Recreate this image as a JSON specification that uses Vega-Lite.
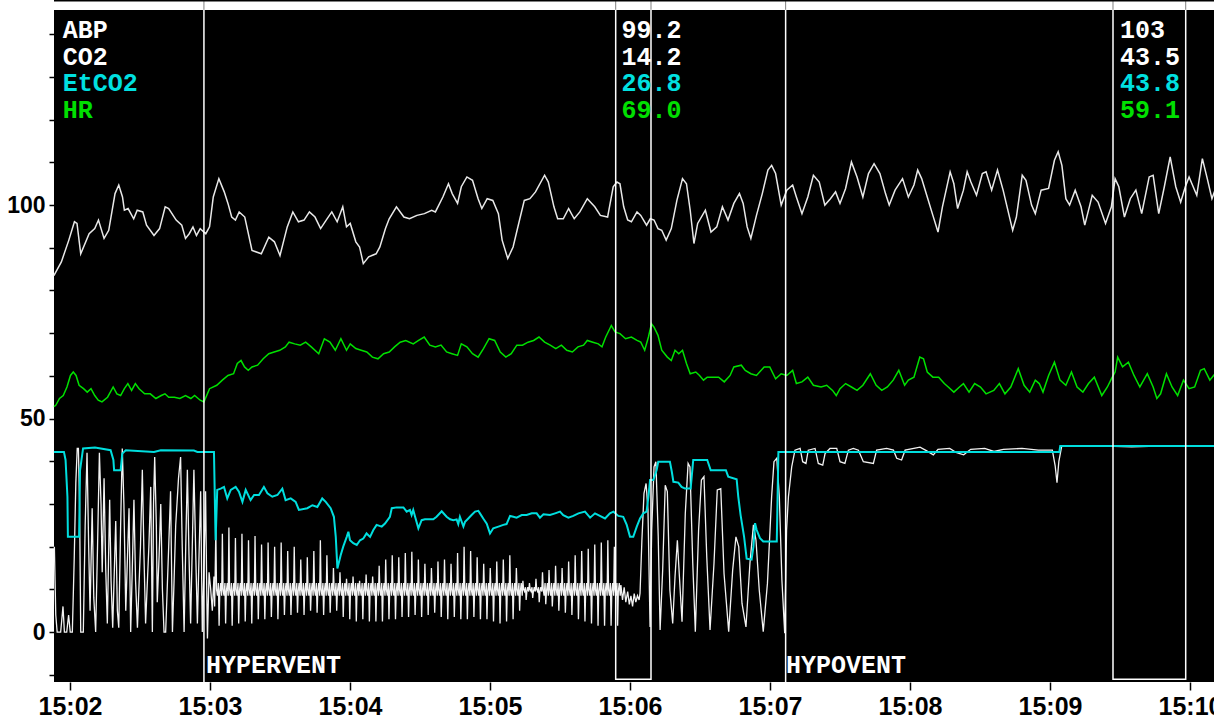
{
"$schema":"https://vega.github.io/schema/vega-lite/v6.json",
"width":1160,"height":672,
"autosize":{"type":"none"},
"padding":{"left":54,"top":10,"right":0,"bottom":39},
"background":"#ffffff",
"config":{"view":{"fill":"#000000","stroke":null}},
"datasets":{
"abp":[{"t":113.1,"v":83.5},{"t":113.9,"v":84.3},{"t":116.3,"v":86.7},{"t":119.5,"v":91.8},{"t":121.9,"v":96.1},{"t":123.0,"v":95.7},{"t":124.6,"v":88.6},{"t":128.2,"v":93.3},{"t":130.6,"v":94.5},{"t":132.2,"v":96.5},{"t":134.6,"v":92.2},{"t":136.6,"v":94.1},{"t":139.3,"v":102.7},{"t":140.9,"v":104.7},{"t":142.5,"v":101.9},{"t":143.3,"v":98.8},{"t":144.9,"v":99.2},{"t":147.3,"v":96.8},{"t":148.8,"v":98.8},{"t":151.2,"v":98.4},{"t":152.8,"v":95.3},{"t":156.0,"v":92.9},{"t":158.4,"v":94.5},{"t":160.8,"v":99.6},{"t":162.3,"v":99.2},{"t":165.5,"v":96.5},{"t":167.9,"v":95.3},{"t":169.5,"v":92.2},{"t":171.1,"v":93.3},{"t":172.7,"v":94.9},{"t":174.2,"v":92.9},{"t":175.8,"v":94.5},{"t":178.2,"v":93.3},{"t":179.8,"v":94.9},{"t":181.4,"v":101.9},{"t":183.8,"v":106.2},{"t":186.1,"v":103.1},{"t":187.7,"v":100.4},{"t":189.3,"v":97.2},{"t":190.9,"v":96.5},{"t":192.5,"v":98.4},{"t":194.9,"v":97.2},{"t":198.0,"v":89.4},{"t":202.0,"v":88.6},{"t":205.2,"v":92.5},{"t":207.6,"v":91.4},{"t":210.0,"v":88.2},{"t":213.1,"v":94.9},{"t":215.5,"v":98.4},{"t":217.9,"v":96.1},{"t":220.3,"v":96.5},{"t":222.6,"v":98.4},{"t":225.0,"v":97.2},{"t":227.4,"v":94.5},{"t":229.8,"v":96.5},{"t":232.2,"v":98.4},{"t":234.5,"v":96.1},{"t":236.9,"v":99.6},{"t":238.5,"v":94.9},{"t":240.1,"v":95.7},{"t":242.5,"v":91.4},{"t":244.1,"v":90.2},{"t":245.7,"v":86.3},{"t":248.0,"v":87.9},{"t":251.2,"v":88.6},{"t":252.8,"v":90.2},{"t":255.2,"v":94.5},{"t":256.8,"v":96.8},{"t":259.9,"v":99.6},{"t":263.1,"v":97.2},{"t":265.5,"v":96.8},{"t":268.7,"v":97.6},{"t":271.9,"v":98.0},{"t":275.0,"v":98.8},{"t":276.6,"v":98.4},{"t":279.8,"v":101.9},{"t":282.2,"v":105.0},{"t":283.8,"v":102.7},{"t":286.1,"v":100.4},{"t":287.7,"v":104.3},{"t":290.1,"v":106.6},{"t":292.5,"v":105.8},{"t":294.9,"v":101.5},{"t":296.5,"v":99.2},{"t":298.8,"v":101.5},{"t":301.2,"v":101.1},{"t":303.6,"v":98.0},{"t":305.2,"v":91.8},{"t":307.6,"v":87.5},{"t":309.9,"v":90.2},{"t":312.3,"v":95.7},{"t":314.7,"v":101.1},{"t":317.1,"v":101.5},{"t":319.5,"v":103.1},{"t":323.4,"v":107.0},{"t":325.0,"v":105.4},{"t":327.4,"v":99.6},{"t":329.0,"v":96.8},{"t":331.4,"v":96.8},{"t":333.7,"v":99.2},{"t":336.1,"v":96.8},{"t":338.5,"v":98.4},{"t":341.7,"v":101.5},{"t":344.9,"v":99.6},{"t":347.3,"v":97.6},{"t":350.4,"v":97.2},{"t":352.8,"v":104.3},{"t":354.4,"v":105.4},{"t":355.7,"v":105.0},{"t":357.3,"v":99.6},{"t":359.0,"v":96.5},{"t":360.6,"v":96.1},{"t":363.0,"v":98.4},{"t":364.6,"v":97.6},{"t":367.1,"v":95.3},{"t":368.7,"v":96.8},{"t":370.3,"v":96.5},{"t":372.0,"v":94.5},{"t":373.6,"v":94.1},{"t":375.5,"v":91.8},{"t":377.7,"v":94.5},{"t":380.1,"v":101.1},{"t":382.5,"v":106.2},{"t":384.2,"v":105.0},{"t":385.8,"v":98.8},{"t":387.4,"v":91.0},{"t":389.0,"v":95.7},{"t":392.3,"v":98.8},{"t":394.7,"v":93.7},{"t":397.2,"v":94.9},{"t":399.6,"v":99.6},{"t":402.0,"v":96.5},{"t":404.5,"v":100.4},{"t":406.9,"v":102.7},{"t":408.5,"v":100.4},{"t":410.2,"v":94.9},{"t":411.8,"v":92.2},{"t":414.2,"v":97.6},{"t":416.7,"v":102.7},{"t":419.1,"v":108.2},{"t":420.7,"v":109.3},{"t":422.4,"v":107.4},{"t":424.8,"v":100.0},{"t":427.2,"v":103.5},{"t":429.7,"v":104.7},{"t":431.3,"v":101.9},{"t":433.7,"v":98.0},{"t":436.2,"v":101.9},{"t":438.6,"v":107.0},{"t":441.1,"v":105.4},{"t":443.5,"v":100.0},{"t":445.9,"v":101.5},{"t":448.1,"v":103.1},{"t":450.0,"v":100.4},{"t":452.4,"v":103.9},{"t":454.9,"v":110.1},{"t":457.3,"v":106.6},{"t":459.8,"v":101.9},{"t":462.2,"v":107.4},{"t":464.6,"v":109.7},{"t":467.1,"v":107.4},{"t":469.5,"v":102.7},{"t":471.1,"v":100.0},{"t":473.6,"v":103.5},{"t":476.8,"v":106.2},{"t":479.3,"v":101.9},{"t":481.7,"v":104.7},{"t":483.3,"v":108.2},{"t":485.0,"v":106.2},{"t":487.4,"v":101.9},{"t":489.8,"v":97.6},{"t":492.0,"v":93.7},{"t":493.9,"v":99.6},{"t":497.2,"v":107.8},{"t":498.8,"v":105.0},{"t":500.4,"v":99.2},{"t":502.9,"v":103.5},{"t":504.5,"v":107.8},{"t":506.1,"v":105.4},{"t":508.5,"v":102.3},{"t":511.0,"v":107.4},{"t":512.6,"v":107.8},{"t":515.0,"v":103.5},{"t":517.5,"v":108.2},{"t":519.9,"v":103.5},{"t":521.6,"v":99.6},{"t":524.0,"v":94.1},{"t":525.6,"v":97.2},{"t":528.1,"v":107.0},{"t":529.7,"v":105.8},{"t":532.1,"v":100.0},{"t":533.7,"v":98.0},{"t":536.2,"v":103.5},{"t":539.4,"v":103.9},{"t":541.9,"v":110.5},{"t":543.5,"v":112.5},{"t":545.1,"v":109.3},{"t":546.8,"v":101.5},{"t":548.4,"v":100.0},{"t":550.8,"v":103.5},{"t":553.3,"v":99.6},{"t":554.9,"v":95.3},{"t":558.1,"v":102.3},{"t":560.6,"v":100.7},{"t":563.8,"v":95.7},{"t":566.3,"v":99.6},{"t":567.9,"v":106.2},{"t":569.5,"v":104.3},{"t":571.9,"v":97.2},{"t":574.4,"v":101.5},{"t":576.8,"v":103.5},{"t":579.3,"v":98.0},{"t":582.5,"v":106.6},{"t":584.2,"v":107.0},{"t":586.6,"v":98.0},{"t":589.0,"v":104.3},{"t":591.5,"v":111.3},{"t":593.9,"v":104.3},{"t":596.0,"v":100.7},{"t":598.0,"v":104.3},{"t":599.6,"v":106.6},{"t":602.9,"v":102.3},{"t":605.3,"v":110.9},{"t":607.4,"v":106.2},{"t":609.4,"v":101.5},{"t":610.7,"v":103.5}],
"hr":[{"t":113.1,"v":52.8},{"t":113.9,"v":53.1},{"t":115.5,"v":54.7},{"t":117.1,"v":55.4},{"t":118.7,"v":57.4},{"t":120.2,"v":60.1},{"t":121.4,"v":60.9},{"t":122.6,"v":60.1},{"t":123.9,"v":57.8},{"t":125.8,"v":57.0},{"t":127.4,"v":56.2},{"t":129.0,"v":57.0},{"t":130.6,"v":55.4},{"t":132.1,"v":54.3},{"t":133.7,"v":53.9},{"t":136.1,"v":55.0},{"t":138.5,"v":57.4},{"t":140.1,"v":55.8},{"t":141.7,"v":55.4},{"t":143.3,"v":57.0},{"t":144.8,"v":58.2},{"t":146.4,"v":56.6},{"t":148.0,"v":58.2},{"t":149.6,"v":57.0},{"t":152.0,"v":55.8},{"t":154.4,"v":55.8},{"t":156.8,"v":54.7},{"t":159.1,"v":55.4},{"t":160.7,"v":55.8},{"t":162.3,"v":55.0},{"t":164.7,"v":55.0},{"t":167.1,"v":54.7},{"t":169.5,"v":55.4},{"t":171.8,"v":54.7},{"t":173.4,"v":55.4},{"t":175.8,"v":54.3},{"t":177.4,"v":53.9},{"t":179.8,"v":57.0},{"t":182.9,"v":57.8},{"t":185.3,"v":59.0},{"t":187.7,"v":60.1},{"t":190.1,"v":60.5},{"t":191.7,"v":62.9},{"t":193.3,"v":63.6},{"t":194.8,"v":62.1},{"t":196.4,"v":61.3},{"t":198.0,"v":62.1},{"t":200.4,"v":62.5},{"t":202.8,"v":64.0},{"t":205.2,"v":65.2},{"t":207.5,"v":65.6},{"t":209.9,"v":66.0},{"t":212.3,"v":66.8},{"t":213.9,"v":67.9},{"t":216.3,"v":67.5},{"t":218.7,"v":67.2},{"t":221.0,"v":67.9},{"t":223.4,"v":66.8},{"t":226.6,"v":65.2},{"t":229.0,"v":68.7},{"t":231.4,"v":67.9},{"t":233.7,"v":66.0},{"t":236.1,"v":68.7},{"t":238.5,"v":66.0},{"t":240.1,"v":67.5},{"t":242.5,"v":66.4},{"t":244.8,"v":66.0},{"t":247.2,"v":65.6},{"t":249.6,"v":64.4},{"t":252.0,"v":64.0},{"t":254.4,"v":65.2},{"t":256.8,"v":65.6},{"t":259.1,"v":66.8},{"t":261.5,"v":67.9},{"t":263.9,"v":68.3},{"t":267.1,"v":67.5},{"t":269.4,"v":68.3},{"t":271.8,"v":69.1},{"t":274.2,"v":67.2},{"t":276.6,"v":66.8},{"t":279.0,"v":67.2},{"t":281.4,"v":65.6},{"t":283.7,"v":65.2},{"t":286.1,"v":64.8},{"t":287.7,"v":67.5},{"t":290.1,"v":66.8},{"t":292.5,"v":65.2},{"t":294.9,"v":64.4},{"t":297.2,"v":66.4},{"t":299.6,"v":68.7},{"t":302.0,"v":68.3},{"t":304.4,"v":65.6},{"t":306.8,"v":64.4},{"t":309.1,"v":65.2},{"t":311.5,"v":67.2},{"t":313.9,"v":67.2},{"t":316.3,"v":67.9},{"t":318.7,"v":68.3},{"t":321.0,"v":69.1},{"t":323.4,"v":67.9},{"t":325.8,"v":67.2},{"t":328.2,"v":66.4},{"t":330.6,"v":67.2},{"t":332.9,"v":66.0},{"t":335.3,"v":65.6},{"t":337.7,"v":66.8},{"t":340.1,"v":67.2},{"t":341.7,"v":68.3},{"t":344.1,"v":67.9},{"t":346.4,"v":67.5},{"t":348.0,"v":66.8},{"t":349.6,"v":69.1},{"t":352.0,"v":71.8},{"t":353.6,"v":70.3},{"t":355.7,"v":69.9},{"t":358.1,"v":68.7},{"t":360.6,"v":69.1},{"t":363.0,"v":68.3},{"t":364.6,"v":67.9},{"t":366.3,"v":66.0},{"t":367.9,"v":69.1},{"t":369.2,"v":72.2},{"t":370.3,"v":71.4},{"t":372.0,"v":69.5},{"t":373.6,"v":66.0},{"t":376.0,"v":64.4},{"t":377.7,"v":63.6},{"t":379.3,"v":66.0},{"t":380.9,"v":65.2},{"t":382.5,"v":66.0},{"t":384.2,"v":62.9},{"t":385.8,"v":60.5},{"t":388.2,"v":60.9},{"t":389.8,"v":60.1},{"t":391.5,"v":59.0},{"t":393.1,"v":59.7},{"t":398.0,"v":59.7},{"t":400.4,"v":58.6},{"t":402.9,"v":60.1},{"t":404.5,"v":62.1},{"t":407.7,"v":62.5},{"t":409.4,"v":61.3},{"t":411.8,"v":60.5},{"t":414.2,"v":60.1},{"t":417.5,"v":62.1},{"t":419.9,"v":62.1},{"t":422.4,"v":59.3},{"t":424.8,"v":60.5},{"t":427.2,"v":60.1},{"t":429.7,"v":61.3},{"t":431.3,"v":58.2},{"t":433.7,"v":58.6},{"t":436.2,"v":59.7},{"t":438.6,"v":57.8},{"t":441.9,"v":57.4},{"t":444.3,"v":57.8},{"t":446.8,"v":56.6},{"t":448.4,"v":55.4},{"t":450.0,"v":57.0},{"t":452.4,"v":58.2},{"t":454.9,"v":57.4},{"t":457.3,"v":56.6},{"t":459.8,"v":57.8},{"t":463.0,"v":60.5},{"t":465.5,"v":57.8},{"t":467.9,"v":56.6},{"t":470.3,"v":57.4},{"t":472.8,"v":59.0},{"t":475.2,"v":61.3},{"t":477.7,"v":57.8},{"t":479.3,"v":59.0},{"t":481.7,"v":59.7},{"t":484.2,"v":64.4},{"t":485.8,"v":64.0},{"t":487.4,"v":60.9},{"t":489.8,"v":59.7},{"t":492.3,"v":59.7},{"t":494.7,"v":58.2},{"t":496.4,"v":57.4},{"t":498.8,"v":56.2},{"t":501.2,"v":57.4},{"t":502.9,"v":58.2},{"t":505.3,"v":56.2},{"t":507.7,"v":58.2},{"t":510.2,"v":57.4},{"t":512.6,"v":55.8},{"t":515.9,"v":56.6},{"t":518.3,"v":58.2},{"t":520.7,"v":55.8},{"t":523.2,"v":57.4},{"t":526.4,"v":61.7},{"t":528.9,"v":57.8},{"t":531.3,"v":56.2},{"t":533.7,"v":59.0},{"t":535.4,"v":58.2},{"t":537.0,"v":56.2},{"t":539.4,"v":60.1},{"t":541.9,"v":63.2},{"t":544.3,"v":59.0},{"t":546.8,"v":57.8},{"t":549.2,"v":60.9},{"t":551.6,"v":57.4},{"t":554.1,"v":56.2},{"t":556.5,"v":58.2},{"t":559.0,"v":59.7},{"t":562.2,"v":55.4},{"t":564.6,"v":57.4},{"t":566.3,"v":59.3},{"t":567.9,"v":60.9},{"t":569.0,"v":64.4},{"t":571.1,"v":62.1},{"t":573.6,"v":63.2},{"t":576.0,"v":60.1},{"t":578.5,"v":57.4},{"t":581.7,"v":60.5},{"t":584.2,"v":57.4},{"t":585.8,"v":54.7},{"t":587.4,"v":55.8},{"t":589.9,"v":60.5},{"t":592.3,"v":57.4},{"t":594.7,"v":55.4},{"t":597.2,"v":59.0},{"t":599.6,"v":57.0},{"t":602.0,"v":57.4},{"t":604.5,"v":61.3},{"t":606.1,"v":61.7},{"t":608.5,"v":59.0},{"t":610.7,"v":60.5}],
"co2":[{"t":113.3,"v":20},{"t":113.9,"v":4},{"t":114.5,"v":0},{"t":116.0,"v":0},{"t":117.0,"v":6},{"t":117.6,"v":0},{"t":118.6,"v":0},{"t":119.4,"v":4},{"t":120.1,"v":0},{"t":121.0,"v":0},{"t":121.8,"v":17},{"t":122.5,"v":35},{"t":123.1,"v":43},{"t":123.6,"v":43},{"t":124.1,"v":30},{"t":124.6,"v":0},{"t":125.7,"v":0},{"t":126.5,"v":25},{"t":127.3,"v":42},{"t":128.0,"v":20},{"t":128.6,"v":5},{"t":129.5,"v":29},{"t":130.2,"v":8},{"t":131.0,"v":0},{"t":131.8,"v":20},{"t":132.6,"v":42},{"t":133.3,"v":30},{"t":133.8,"v":14},{"t":134.6,"v":36},{"t":135.3,"v":15},{"t":136.0,"v":2},{"t":137.0,"v":31},{"t":137.6,"v":12},{"t":138.3,"v":1},{"t":139.6,"v":26},{"t":140.3,"v":5},{"t":140.9,"v":1},{"t":141.7,"v":25},{"t":142.4,"v":43},{"t":143.1,"v":30},{"t":143.9,"v":5},{"t":145.3,"v":29},{"t":146.0,"v":0},{"t":146.7,"v":15},{"t":147.4,"v":31},{"t":148.1,"v":12},{"t":148.9,"v":1},{"t":150.2,"v":20},{"t":151.0,"v":38},{"t":151.7,"v":18},{"t":152.4,"v":2},{"t":153.8,"v":20},{"t":154.6,"v":34},{"t":155.3,"v":0},{"t":155.8,"v":30},{"t":156.3,"v":41},{"t":157.0,"v":25},{"t":157.4,"v":7},{"t":158.2,"v":18},{"t":158.9,"v":30},{"t":159.6,"v":10},{"t":160.3,"v":0},{"t":161.0,"v":0},{"t":162.3,"v":20},{"t":163.1,"v":33},{"t":163.9,"v":0},{"t":164.6,"v":12},{"t":165.3,"v":25},{"t":166.5,"v":36},{"t":167.4,"v":41},{"t":168.1,"v":20},{"t":168.9,"v":0},{"t":169.6,"v":20},{"t":170.3,"v":38},{"t":171.0,"v":18},{"t":171.7,"v":2},{"t":172.4,"v":20},{"t":173.1,"v":38},{"t":173.9,"v":18},{"t":174.6,"v":2},{"t":175.3,"v":18},{"t":176.0,"v":33},{"t":176.7,"v":0},{"t":177.4,"v":15},{"t":178.1,"v":33},{"t":178.6,"v":10},{"t":178.9,"v":-1.5},{"t":179.6,"v":14},{"t":180.3,"v":10},{"t":181.0,"v":5},{"t":181.7,"v":13},{"t":182.0,"v":6},
{"t":182.5,"v":24},{"t":182.8,"v":10},{"t":183.2,"v":8.5},{"t":183.6,"v":11.5},{"t":183.9,"v":1.5},{"t":184.2,"v":9.5},{"t":184.6,"v":11.5},{"t":185.0,"v":8.5},
{"t":185.3,"v":23},{"t":185.6,"v":10},{"t":186.0,"v":8.5},{"t":186.4,"v":11.5},{"t":186.7,"v":2},{"t":187.0,"v":9.5},{"t":187.4,"v":11.5},{"t":187.8,"v":8.5},
{"t":188.1,"v":24.5},{"t":188.4,"v":10},{"t":188.8,"v":8.5},{"t":189.2,"v":11.5},{"t":189.5,"v":1.5},{"t":189.8,"v":9.5},{"t":190.2,"v":11.5},{"t":190.6,"v":8.5},
{"t":190.9,"v":22},{"t":191.2,"v":10},{"t":191.6,"v":8.5},{"t":192.0,"v":11.5},{"t":192.3,"v":2},{"t":192.6,"v":9.5},{"t":193.0,"v":11.5},{"t":193.4,"v":8.5},
{"t":193.7,"v":23},{"t":194.0,"v":10},{"t":194.4,"v":8.5},{"t":194.8,"v":11.5},{"t":195.1,"v":2.5},{"t":195.4,"v":9.5},{"t":195.8,"v":11.5},{"t":196.2,"v":8.5},
{"t":196.5,"v":21.5},{"t":196.8,"v":10},{"t":197.2,"v":8.5},{"t":197.6,"v":11.5},{"t":197.9,"v":2},{"t":198.2,"v":9.5},{"t":198.6,"v":11.5},{"t":199.0,"v":8.5},
{"t":199.3,"v":22.5},{"t":199.6,"v":10},{"t":200.0,"v":8.5},{"t":200.4,"v":11.5},{"t":200.7,"v":3},{"t":201.0,"v":9.5},{"t":201.4,"v":11.5},{"t":201.8,"v":8.5},
{"t":202.1,"v":20.5},{"t":202.4,"v":10},{"t":202.8,"v":8.5},{"t":203.2,"v":11.5},{"t":203.5,"v":3},{"t":203.8,"v":9.5},{"t":204.2,"v":11.5},{"t":204.6,"v":8.5},
{"t":204.9,"v":21},{"t":205.2,"v":10},{"t":205.6,"v":8.5},{"t":206.0,"v":11.5},{"t":206.3,"v":3.5},{"t":206.6,"v":9.5},{"t":207.0,"v":11.5},{"t":207.4,"v":8.5},
{"t":207.7,"v":20},{"t":208.0,"v":10},{"t":208.4,"v":8.5},{"t":208.8,"v":11.5},{"t":209.1,"v":3},{"t":209.4,"v":9.5},{"t":209.8,"v":11.5},{"t":210.2,"v":8.5},
{"t":210.5,"v":21},{"t":210.8,"v":10},{"t":211.2,"v":8.5},{"t":211.6,"v":11.5},{"t":211.9,"v":4},{"t":212.2,"v":9.5},{"t":212.6,"v":11.5},{"t":213.0,"v":8.5},
{"t":213.3,"v":19},{"t":213.6,"v":10},{"t":214.0,"v":8.5},{"t":214.4,"v":11.5},{"t":214.7,"v":4},{"t":215.0,"v":9.5},{"t":215.4,"v":11.5},{"t":215.8,"v":8.5},
{"t":216.1,"v":20},{"t":216.4,"v":10},{"t":216.8,"v":8.5},{"t":217.2,"v":11.5},{"t":217.5,"v":4.5},{"t":217.8,"v":9.5},{"t":218.2,"v":11.5},{"t":218.6,"v":8.5},
{"t":218.9,"v":17},{"t":219.2,"v":10},{"t":219.6,"v":8.5},{"t":220.0,"v":11.5},{"t":220.3,"v":4},{"t":220.6,"v":9.5},{"t":221.0,"v":11.5},{"t":221.4,"v":8.5},
{"t":221.7,"v":17.5},{"t":222.0,"v":10},{"t":222.4,"v":8.5},{"t":222.8,"v":11.5},{"t":223.1,"v":5},{"t":223.4,"v":9.5},{"t":223.8,"v":11.5},{"t":224.2,"v":8.5},
{"t":224.5,"v":19},{"t":224.8,"v":10},{"t":225.2,"v":8.5},{"t":225.6,"v":11.5},{"t":225.9,"v":4.5},{"t":226.2,"v":9.5},{"t":226.6,"v":11.5},{"t":227.0,"v":8.5},
{"t":227.3,"v":21.5},{"t":227.6,"v":10},{"t":228.0,"v":8.5},{"t":228.4,"v":11.5},{"t":228.7,"v":4},{"t":229.0,"v":9.5},{"t":229.4,"v":11.5},{"t":229.8,"v":8.5},
{"t":230.1,"v":18},{"t":230.4,"v":10},{"t":230.8,"v":8.5},{"t":231.2,"v":11.5},{"t":231.5,"v":4.5},{"t":231.8,"v":9.5},{"t":232.2,"v":11.5},{"t":232.6,"v":8.5},
{"t":232.9,"v":15},{"t":233.2,"v":10},{"t":233.6,"v":8.5},{"t":234.0,"v":11.5},{"t":234.3,"v":5},{"t":234.6,"v":9.5},{"t":235.0,"v":11.5},{"t":235.4,"v":8.5},
{"t":235.7,"v":14},{"t":236.0,"v":10},{"t":236.4,"v":8.5},{"t":236.8,"v":11.5},{"t":237.1,"v":3.5},{"t":237.4,"v":9.5},{"t":237.8,"v":11.5},{"t":238.2,"v":8.5},
{"t":238.5,"v":12.5},{"t":238.8,"v":10},{"t":239.2,"v":8.5},{"t":239.6,"v":11.5},{"t":239.9,"v":3},{"t":240.2,"v":9.5},{"t":240.6,"v":11.5},{"t":241.0,"v":8.5},
{"t":241.3,"v":13},{"t":241.6,"v":10},{"t":242.0,"v":8.5},{"t":242.4,"v":11.5},{"t":242.7,"v":2.5},{"t":243.0,"v":9.5},{"t":243.4,"v":11.5},{"t":243.8,"v":8.5},
{"t":244.1,"v":12},{"t":244.4,"v":10},{"t":244.8,"v":8.5},{"t":245.2,"v":11.5},{"t":245.5,"v":3},{"t":245.8,"v":9.5},{"t":246.2,"v":11.5},{"t":246.6,"v":8.5},
{"t":246.9,"v":13.5},{"t":247.2,"v":10},{"t":247.6,"v":8.5},{"t":248.0,"v":11.5},{"t":248.3,"v":2.5},{"t":248.6,"v":9.5},{"t":249.0,"v":11.5},{"t":249.4,"v":8.5},
{"t":249.7,"v":13},{"t":250.0,"v":10},{"t":250.4,"v":8.5},{"t":250.8,"v":11.5},{"t":251.1,"v":2.5},{"t":251.4,"v":9.5},{"t":251.8,"v":11.5},{"t":252.2,"v":8.5},
{"t":252.5,"v":15.5},{"t":252.8,"v":10},{"t":253.2,"v":8.5},{"t":253.6,"v":11.5},{"t":253.9,"v":2.5},{"t":254.2,"v":9.5},{"t":254.6,"v":11.5},{"t":255.0,"v":8.5},
{"t":255.3,"v":17},{"t":255.6,"v":10},{"t":256.0,"v":8.5},{"t":256.4,"v":11.5},{"t":256.7,"v":3},{"t":257.0,"v":9.5},{"t":257.4,"v":11.5},{"t":257.8,"v":8.5},
{"t":258.1,"v":18},{"t":258.4,"v":10},{"t":258.8,"v":8.5},{"t":259.2,"v":11.5},{"t":259.5,"v":3},{"t":259.8,"v":9.5},{"t":260.2,"v":11.5},{"t":260.6,"v":8.5},
{"t":260.9,"v":17.5},{"t":261.2,"v":10},{"t":261.6,"v":8.5},{"t":262.0,"v":11.5},{"t":262.3,"v":3.5},{"t":262.6,"v":9.5},{"t":263.0,"v":11.5},{"t":263.4,"v":8.5},
{"t":263.7,"v":18.5},{"t":264.0,"v":10},{"t":264.4,"v":8.5},{"t":264.8,"v":11.5},{"t":265.1,"v":3.5},{"t":265.4,"v":9.5},{"t":265.8,"v":11.5},{"t":266.2,"v":8.5},
{"t":266.5,"v":18.8},{"t":266.8,"v":10},{"t":267.2,"v":8.5},{"t":267.6,"v":11.5},{"t":267.9,"v":4},{"t":268.2,"v":9.5},{"t":268.6,"v":11.5},{"t":269.0,"v":8.5},
{"t":269.3,"v":17},{"t":269.6,"v":10},{"t":270.0,"v":8.5},{"t":270.4,"v":11.5},{"t":270.7,"v":3.5},{"t":271.0,"v":9.5},{"t":271.4,"v":11.5},{"t":271.8,"v":8.5},
{"t":272.1,"v":16},{"t":272.4,"v":10},{"t":272.8,"v":8.5},{"t":273.2,"v":11.5},{"t":273.5,"v":4},{"t":273.8,"v":9.5},{"t":274.2,"v":11.5},{"t":274.6,"v":8.5},
{"t":274.9,"v":15},{"t":275.2,"v":10},{"t":275.6,"v":8.5},{"t":276.0,"v":11.5},{"t":276.3,"v":4.5},{"t":276.6,"v":9.5},{"t":277.0,"v":11.5},{"t":277.4,"v":8.5},
{"t":277.7,"v":16.5},{"t":278.0,"v":10},{"t":278.4,"v":8.5},{"t":278.8,"v":11.5},{"t":279.1,"v":3.5},{"t":279.4,"v":9.5},{"t":279.8,"v":11.5},{"t":280.2,"v":8.5},
{"t":280.5,"v":17},{"t":280.8,"v":10},{"t":281.2,"v":8.5},{"t":281.6,"v":11.5},{"t":281.9,"v":3},{"t":282.2,"v":9.5},{"t":282.6,"v":11.5},{"t":283.0,"v":8.5},
{"t":283.3,"v":16},{"t":283.6,"v":10},{"t":284.0,"v":8.5},{"t":284.4,"v":11.5},{"t":284.7,"v":3.5},{"t":285.0,"v":9.5},{"t":285.4,"v":11.5},{"t":285.8,"v":8.5},
{"t":286.1,"v":18.5},{"t":286.4,"v":10},{"t":286.8,"v":8.5},{"t":287.2,"v":11.5},{"t":287.5,"v":3},{"t":287.8,"v":9.5},{"t":288.2,"v":11.5},{"t":288.6,"v":8.5},
{"t":288.9,"v":20},{"t":289.2,"v":10},{"t":289.6,"v":8.5},{"t":290.0,"v":11.5},{"t":290.3,"v":3},{"t":290.6,"v":9.5},{"t":291.0,"v":11.5},{"t":291.4,"v":8.5},
{"t":291.7,"v":19},{"t":292.0,"v":10},{"t":292.4,"v":8.5},{"t":292.8,"v":11.5},{"t":293.1,"v":3.5},{"t":293.4,"v":9.5},{"t":293.8,"v":11.5},{"t":294.2,"v":8.5},
{"t":294.5,"v":17.5},{"t":294.8,"v":10},{"t":295.2,"v":8.5},{"t":295.6,"v":11.5},{"t":295.9,"v":3},{"t":296.2,"v":9.5},{"t":296.6,"v":11.5},{"t":297.0,"v":8.5},
{"t":297.3,"v":16},{"t":297.6,"v":10},{"t":298.0,"v":8.5},{"t":298.4,"v":11.5},{"t":298.7,"v":3},{"t":299.0,"v":9.5},{"t":299.4,"v":11.5},{"t":299.8,"v":8.5},
{"t":300.1,"v":15},{"t":300.4,"v":10},{"t":300.8,"v":8.5},{"t":301.2,"v":11.5},{"t":301.5,"v":2.5},{"t":301.8,"v":9.5},{"t":302.2,"v":11.5},{"t":302.6,"v":8.5},
{"t":302.9,"v":16.5},{"t":303.2,"v":10},{"t":303.6,"v":8.5},{"t":304.0,"v":11.5},{"t":304.3,"v":2},{"t":304.6,"v":9.5},{"t":305.0,"v":11.5},{"t":305.4,"v":8.5},
{"t":305.7,"v":17},{"t":306.0,"v":10},{"t":306.4,"v":8.5},{"t":306.8,"v":11.5},{"t":307.1,"v":2.5},{"t":307.4,"v":9.5},{"t":307.8,"v":11.5},{"t":308.2,"v":8.5},
{"t":308.5,"v":18},{"t":308.8,"v":10},{"t":309.2,"v":8.5},{"t":309.6,"v":11.5},{"t":309.9,"v":3},{"t":310.2,"v":9.5},{"t":310.6,"v":11.5},{"t":311.0,"v":8.5},
{"t":311.3,"v":15},{"t":311.6,"v":10},{"t":312.0,"v":8.5},{"t":312.4,"v":11.5},{"t":312.7,"v":5},{"t":313.0,"v":9.5},{"t":313.4,"v":11.5},{"t":313.8,"v":8.5},
{"t":314.1,"v":12},{"t":314.4,"v":10},{"t":314.8,"v":9.5},{"t":315.2,"v":10.5},{"t":315.5,"v":7.5},{"t":315.8,"v":9.5},{"t":316.2,"v":10.5},{"t":316.6,"v":9.5},
{"t":316.9,"v":11.5},{"t":317.2,"v":10},{"t":317.6,"v":9.5},{"t":318.0,"v":10.5},{"t":318.3,"v":8},{"t":318.6,"v":9.5},{"t":319.0,"v":10.5},{"t":319.4,"v":9.5},
{"t":319.7,"v":12.5},{"t":320.0,"v":10},{"t":320.4,"v":9.5},{"t":320.8,"v":10.5},{"t":321.1,"v":7},{"t":321.4,"v":9.5},{"t":321.8,"v":10.5},{"t":322.2,"v":9.5},
{"t":322.5,"v":14},{"t":322.8,"v":10},{"t":323.2,"v":8.5},{"t":323.6,"v":11.5},{"t":323.9,"v":6.5},{"t":324.2,"v":9.5},{"t":324.6,"v":11.5},{"t":325.0,"v":8.5},
{"t":325.3,"v":14.5},{"t":325.6,"v":10},{"t":326.0,"v":8.5},{"t":326.4,"v":11.5},{"t":326.7,"v":6},{"t":327.0,"v":9.5},{"t":327.4,"v":11.5},{"t":327.8,"v":8.5},
{"t":328.1,"v":15.5},{"t":328.4,"v":10},{"t":328.8,"v":8.5},{"t":329.2,"v":11.5},{"t":329.5,"v":5},{"t":329.8,"v":9.5},{"t":330.2,"v":11.5},{"t":330.6,"v":8.5},
{"t":330.9,"v":15},{"t":331.2,"v":10},{"t":331.6,"v":8.5},{"t":332.0,"v":11.5},{"t":332.3,"v":4.5},{"t":332.6,"v":9.5},{"t":333.0,"v":11.5},{"t":333.4,"v":8.5},
{"t":333.7,"v":16.5},{"t":334.0,"v":10},{"t":334.4,"v":8.5},{"t":334.8,"v":11.5},{"t":335.1,"v":4},{"t":335.4,"v":9.5},{"t":335.8,"v":11.5},{"t":336.2,"v":8.5},
{"t":336.5,"v":18},{"t":336.8,"v":10},{"t":337.2,"v":8.5},{"t":337.6,"v":11.5},{"t":337.9,"v":3},{"t":338.2,"v":9.5},{"t":338.6,"v":11.5},{"t":339.0,"v":8.5},
{"t":339.3,"v":19},{"t":339.6,"v":10},{"t":340.0,"v":8.5},{"t":340.4,"v":11.5},{"t":340.7,"v":2.5},{"t":341.0,"v":9.5},{"t":341.4,"v":11.5},{"t":341.8,"v":8.5},
{"t":342.1,"v":19.5},{"t":342.4,"v":10},{"t":342.8,"v":8.5},{"t":343.2,"v":11.5},{"t":343.5,"v":2},{"t":343.8,"v":9.5},{"t":344.2,"v":11.5},{"t":344.6,"v":8.5},
{"t":344.9,"v":20.5},{"t":345.2,"v":10},{"t":345.6,"v":8.5},{"t":346.0,"v":11.5},{"t":346.3,"v":1.5},{"t":346.6,"v":9.5},{"t":347.0,"v":11.5},{"t":347.4,"v":8.5},
{"t":347.7,"v":21},{"t":348.0,"v":10},{"t":348.4,"v":8.5},{"t":348.8,"v":11.5},{"t":349.1,"v":1.5},{"t":349.4,"v":9.5},{"t":349.8,"v":11.5},{"t":350.2,"v":8.5},
{"t":350.5,"v":21.5},{"t":350.8,"v":10},{"t":351.2,"v":8.5},{"t":351.6,"v":11.5},{"t":351.9,"v":1.5},{"t":352.2,"v":9.5},{"t":352.6,"v":11.5},{"t":353.0,"v":8.5},
{"t":353.3,"v":20},{"t":353.6,"v":10},{"t":354.0,"v":8.5},{"t":354.4,"v":11.5},{"t":354.7,"v":1.5},{"t":355.0,"v":9.5},{"t":355.4,"v":11.5},{"t":355.8,"v":8.5},
{"t":356.1,"v":11},{"t":356.8,"v":7.5},{"t":357.5,"v":10.5},{"t":358.2,"v":7},{"t":359.0,"v":9.5},{"t":359.7,"v":6.5},{"t":360.4,"v":8.5},{"t":361.1,"v":6},{"t":361.8,"v":9},{"t":362.5,"v":7},{"t":363.2,"v":8.5},{"t":363.9,"v":7.5},
{"t":364.3,"v":9.1},{"t":365.1,"v":21.5},{"t":366.0,"v":32.5},{"t":366.9,"v":34.8},{"t":367.7,"v":28.6},{"t":368.6,"v":1.2},{"t":369.3,"v":23.9},{"t":370.3,"v":38.7},{"t":371.1,"v":39.9},{"t":372.1,"v":22.3},{"t":372.9,"v":0.5},{"t":374.0,"v":14.5},{"t":375.1,"v":34.4},{"t":376.0,"v":32.9},{"t":377.1,"v":9.8},{"t":378.3,"v":2.0},{"t":379.3,"v":13.0},{"t":380.3,"v":21.5},{"t":381.1,"v":13.7},{"t":382.3,"v":2.4},{"t":383.7,"v":27.8},{"t":384.9,"v":39.5},{"t":385.7,"v":38.7},{"t":386.9,"v":16.1},{"t":388.0,"v":0.1},{"t":389.4,"v":23.9},{"t":390.6,"v":35.6},{"t":391.7,"v":36.4},{"t":392.9,"v":17.6},{"t":394.3,"v":0.5},{"t":396.0,"v":16.1},{"t":397.4,"v":33.3},{"t":398.9,"v":33.6},{"t":400.3,"v":13.7},{"t":402.3,"v":0.1},{"t":404.0,"v":14.5},{"t":405.4,"v":22.3},{"t":406.6,"v":20.0},{"t":408.0,"v":6.7},{"t":409.7,"v":1.2},{"t":411.4,"v":16.1},{"t":412.9,"v":25.1},{"t":414.0,"v":21.5},{"t":415.4,"v":9.8},{"t":417.1,"v":0.1},{"t":418.9,"v":11.4},{"t":420.7,"v":31.7},{"t":421.7,"v":39.9},{"t":422.9,"v":40.7},{"t":424.0,"v":31.7},{"t":425.1,"v":12.2},{"t":426.3,"v":-0.3},{"t":427.1,"v":23.9},
{"t":427.9,"v":31.7},{"t":429.3,"v":38.7},{"t":430.7,"v":42.6},{"t":432.9,"v":43.0},{"t":434.0,"v":39.9},{"t":435.4,"v":39.5},{"t":436.4,"v":42.6},{"t":439.3,"v":43.0},{"t":440.7,"v":39.5},{"t":442.6,"v":39.1},{"t":443.6,"v":41.8},{"t":445.7,"v":43.0},{"t":448.6,"v":43.0},{"t":450.0,"v":39.9},{"t":452.1,"v":39.5},{"t":453.6,"v":42.6},{"t":455.7,"v":43.0},{"t":457.9,"v":42.6},{"t":460.0,"v":39.9},{"t":464.3,"v":39.5},{"t":465.7,"v":42.6},{"t":470.0,"v":43.0},{"t":472.9,"v":42.6},{"t":474.3,"v":40.7},{"t":476.4,"v":40.3},{"t":477.9,"v":42.6},{"t":484.3,"v":43.3},{"t":487.0,"v":42.5},{"t":490.0,"v":41.5},{"t":492.0,"v":42.8},{"t":497.0,"v":43.0},{"t":500.0,"v":42.0},{"t":503.0,"v":41.5},{"t":506.0,"v":42.8},{"t":512.0,"v":43.0},{"t":516.0,"v":42.3},{"t":520.0,"v":42.8},{"t":528.0,"v":43.0},{"t":535.0,"v":42.6},{"t":541.0,"v":42.6},{"t":542.2,"v":39},{"t":543.0,"v":35},{"t":543.8,"v":40},{"t":545.0,"v":43.5},{"t":560.0,"v":43.6},{"t":575.0,"v":43.4},{"t":590.0,"v":43.6},{"t":610.3,"v":43.5}],
"et":[{"t":113.1,"v":42.2},{"t":117.4,"v":42.2},{"t":118.1,"v":40.3},{"t":118.9,"v":31.7},{"t":119.1,"v":22.3},{"t":123.9,"v":22.3},{"t":124.3,"v":37.9},{"t":125.6,"v":43.0},{"t":130.7,"v":43.2},{"t":137.4,"v":42.6},{"t":138.6,"v":40.3},{"t":138.9,"v":37.9},{"t":141.7,"v":37.9},{"t":142.4,"v":41.8},{"t":143.9,"v":42.6},{"t":156.0,"v":42.2},{"t":158.9,"v":42.6},{"t":173.1,"v":42.5},{"t":174.6,"v":42.2},{"t":181.7,"v":42.2},{"t":182.4,"v":21.5},{"t":183.1,"v":33.3},{"t":184.6,"v":33.6},{"t":186.0,"v":34.0},{"t":187.4,"v":31.3},{"t":188.9,"v":33.3},{"t":191.0,"v":34.0},{"t":192.4,"v":32.9},{"t":193.9,"v":30.5},{"t":195.3,"v":33.3},{"t":197.4,"v":30.9},{"t":198.9,"v":32.1},{"t":201.0,"v":32.1},{"t":203.1,"v":34.0},{"t":204.6,"v":32.5},{"t":206.7,"v":31.7},{"t":208.9,"v":32.1},{"t":211.0,"v":33.6},{"t":212.4,"v":30.9},{"t":214.6,"v":31.3},{"t":216.7,"v":30.5},{"t":218.1,"v":28.6},{"t":221.7,"v":29.0},{"t":223.9,"v":29.7},{"t":226.0,"v":29.3},{"t":228.1,"v":31.3},{"t":229.6,"v":30.5},{"t":231.7,"v":29.0},{"t":233.1,"v":27.0},{"t":233.9,"v":22.3},{"t":234.6,"v":14.9},{"t":236.0,"v":18.0},{"t":237.1,"v":20.0},{"t":238.6,"v":22.3},{"t":239.3,"v":23.5},{"t":240.0,"v":21.5},{"t":241.4,"v":20.8},{"t":242.9,"v":20.4},{"t":244.3,"v":21.5},{"t":245.7,"v":21.9},{"t":247.1,"v":23.1},{"t":248.6,"v":22.3},{"t":250.0,"v":23.9},{"t":251.4,"v":25.1},{"t":253.6,"v":24.7},{"t":255.0,"v":25.4},{"t":257.1,"v":27.0},{"t":257.9,"v":29.0},{"t":260.0,"v":29.2},{"t":262.9,"v":29.2},{"t":264.3,"v":28.2},{"t":265.7,"v":28.6},{"t":266.4,"v":27.4},{"t":267.1,"v":28.6},{"t":267.9,"v":27.0},{"t":269.3,"v":24.3},{"t":270.7,"v":26.2},{"t":272.1,"v":26.4},{"t":275.7,"v":26.4},{"t":277.1,"v":27.0},{"t":279.3,"v":28.3},{"t":281.4,"v":27.0},{"t":282.9,"v":26.4},{"t":284.3,"v":26.2},{"t":285.7,"v":26.4},{"t":286.4,"v":25.3},{"t":287.1,"v":27.0},{"t":288.6,"v":24.7},{"t":289.3,"v":25.8},{"t":290.7,"v":26.6},{"t":292.1,"v":27.4},{"t":293.6,"v":28.2},{"t":295.0,"v":28.4},{"t":295.7,"v":27.8},{"t":297.1,"v":26.6},{"t":298.6,"v":25.4},{"t":300.0,"v":23.1},{"t":301.4,"v":24.3},{"t":303.6,"v":24.7},{"t":305.7,"v":25.1},{"t":307.1,"v":25.3},{"t":308.6,"v":27.2},{"t":310.0,"v":27.0},{"t":311.4,"v":26.8},{"t":313.6,"v":27.4},{"t":315.7,"v":27.4},{"t":317.9,"v":27.8},{"t":320.0,"v":27.8},{"t":321.4,"v":26.8},{"t":322.9,"v":27.6},{"t":325.7,"v":27.4},{"t":327.9,"v":27.8},{"t":330.0,"v":28.2},{"t":331.4,"v":27.4},{"t":333.6,"v":26.8},{"t":335.7,"v":27.2},{"t":337.9,"v":27.8},{"t":340.7,"v":28.2},{"t":342.9,"v":26.8},{"t":345.0,"v":27.8},{"t":347.1,"v":27.2},{"t":349.3,"v":26.6},{"t":351.4,"v":27.8},{"t":352.9,"v":28.2},{"t":355.0,"v":27.2},{"t":357.1,"v":27.0},{"t":358.6,"v":25.1},{"t":360.0,"v":22.3},{"t":361.4,"v":22.3},{"t":362.9,"v":24.7},{"t":364.3,"v":26.6},{"t":365.7,"v":27.8},{"t":367.1,"v":28.2},{"t":367.9,"v":31.7},{"t":368.6,"v":35.6},{"t":370.0,"v":35.6},{"t":371.4,"v":37.9},{"t":372.1,"v":39.9},{"t":377.1,"v":39.9},{"t":377.9,"v":37.6},{"t":378.6,"v":35.2},{"t":380.7,"v":35.0},{"t":382.1,"v":34.0},{"t":383.6,"v":33.6},{"t":386.0,"v":33.6},{"t":387.1,"v":40.3},{"t":393.1,"v":40.3},{"t":394.6,"v":37.9},{"t":401.1,"v":37.9},{"t":402.1,"v":36.4},{"t":405.7,"v":35.8},{"t":406.4,"v":31.7},{"t":407.4,"v":27.4},{"t":408.9,"v":22.3},{"t":410.0,"v":17.2},{"t":412.1,"v":17.0},{"t":412.9,"v":20.0},{"t":413.6,"v":25.5},{"t":414.3,"v":23.9},{"t":415.7,"v":22.0},{"t":417.1,"v":21.2},{"t":422.9,"v":21.2},{"t":423.6,"v":42.2},{"t":544.0,"v":42.2},{"t":544.4,"v":43.6},{"t":610.3,"v":43.6}],
"vl":[{"t":177.4},{"t":426.7}],
"box":[{"t":353.87,"t2":369.0},{"t":567.0,"t2":598.16}],
"band":[{"t":177.4},{"t":353.87},{"t":369.0},{"t":426.7},{"t":567.0},{"t":598.16}],
"labels":[{"t":116.9,"v":141.0,"txt":"ABP","s":"w"},{"t":116.9,"v":134.8,"txt":"CO2","s":"w"},{"t":116.9,"v":128.6,"txt":"EtCO2","s":"c"},{"t":116.9,"v":122.3,"txt":"HR","s":"g"},{"t":356.4,"v":141.0,"txt":"99.2","s":"w"},{"t":356.4,"v":134.8,"txt":"14.2","s":"w"},{"t":356.4,"v":128.6,"txt":"26.8","s":"c"},{"t":356.4,"v":122.3,"txt":"69.0","s":"g"},{"t":570.0,"v":141.0,"txt":"103","s":"w"},{"t":570.0,"v":134.8,"txt":"43.5","s":"w"},{"t":570.0,"v":128.6,"txt":"43.8","s":"c"},{"t":570.0,"v":122.3,"txt":"59.1","s":"g"},{"t":178.3,"v":-7.7,"txt":"HYPERVENT","s":"w"},{"t":426.9,"v":-7.7,"txt":"HYPOVENT","s":"w"}]
},
"layer":[
{"data":{"name":"abp"},"mark":{"type":"line","color":"#e8e8e8","strokeWidth":1.5},
 "encoding":{
  "x":{"field":"t","type":"quantitative","scale":{"domain":[113.143,610.286],"nice":false,"zero":false},
   "axis":{"values":[120,180,240,300,360,420,480,540,600],"labelExpr":"'15:' + (datum.value < 600 ? '0' : '') + (datum.value / 60)","title":null,"domain":false,"grid":false,"tickColor":"#000000","tickSize":8,"tickWidth":1.5,"labelFont":"Liberation Sans","labelFontWeight":"bold","labelFontSize":25,"labelColor":"#000000","labelPadding":4,"labelFlush":false,"labelOverlap":false}},
  "y":{"field":"v","type":"quantitative","scale":{"domain":[-11.7,145.7],"nice":false,"zero":false},
   "axis":{"values":[-10,0,10,20,30,40,50,60,70,80,90,100,110,120,130,140],"labelExpr":"datum.value % 50 === 0 ? datum.label : ''","title":null,"domain":false,"grid":false,"tickColor":"#000000","tickSize":5,"tickWidth":1.5,"labelFont":"Liberation Sans","labelFontWeight":"bold","labelFontSize":23,"labelColor":"#000000","labelPadding":4,"labelOverlap":false}}}},
{"data":{"name":"hr"},"mark":{"type":"line","color":"#00e000","strokeWidth":1.5},
 "encoding":{"x":{"field":"t","type":"quantitative"},"y":{"field":"v","type":"quantitative"}}},
{"data":{"name":"co2"},"mark":{"type":"line","color":"#f2f2f2","strokeWidth":1.3},
 "encoding":{"x":{"field":"t","type":"quantitative"},"y":{"field":"v","type":"quantitative"}}},
{"data":{"name":"et"},"mark":{"type":"line","color":"#00dede","strokeWidth":2},
 "encoding":{"x":{"field":"t","type":"quantitative"},"y":{"field":"v","type":"quantitative"}}},
{"data":{"name":"vl"},"mark":{"type":"rule","color":"#ffffff","strokeWidth":1.5},
 "encoding":{"x":{"field":"t","type":"quantitative"},"y":{"datum":-11.7,"type":"quantitative"},"y2":{"datum":145.7}}},
{"data":{"name":"box"},"mark":{"type":"rect","fill":"transparent","stroke":"#ffffff","strokeWidth":1.5},
 "encoding":{"x":{"field":"t","type":"quantitative"},"x2":{"field":"t2"},"y":{"datum":-11.07,"type":"quantitative"},"y2":{"datum":150}}},
{"data":{"name":"band"},"mark":{"type":"rule","color":"#808080","strokeWidth":1},
 "encoding":{"x":{"field":"t","type":"quantitative"},"y":{"datum":145.75,"type":"quantitative"},"y2":{"datum":148.2}}},
{"data":{"values":[{}]},"mark":{"type":"rule","color":"#000000","strokeWidth":2},
 "encoding":{"y":{"datum":147.95,"type":"quantitative"}}},
{"data":{"name":"labels"},"mark":{"type":"text","align":"left","baseline":"middle","font":"Liberation Mono","fontWeight":"bold","fontSize":25},
 "encoding":{"x":{"field":"t","type":"quantitative"},"y":{"field":"v","type":"quantitative"},"text":{"field":"txt"},
  "color":{"field":"s","type":"nominal","scale":{"domain":["w","c","g"],"range":["#ffffff","#00e0e0","#00e000"]},"legend":null}}}
]
}
